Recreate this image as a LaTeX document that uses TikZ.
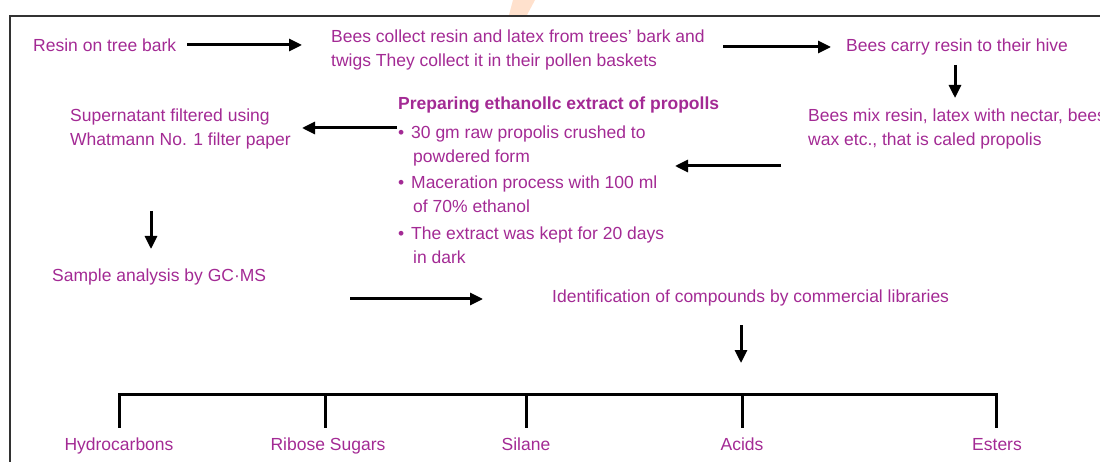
\documentclass[tikz,border=0pt]{standalone}
\usepackage{fontspec}
\setmainfont{Liberation Sans}
\usetikzlibrary{arrows.meta}
\definecolor{txtc}{RGB}{163,42,148}
\definecolor{framec}{RGB}{50,50,50}
\definecolor{wmark}{RGB}{255,225,205}
\tikzset{
  lbl/.style={text=txtc, inner sep=0pt, font=\fontsize{17.5}{24}\selectfont, align=left},
  arr/.style={line width=3pt, -{Triangle[length=13pt,width=12pt]}, black},
  bus/.style={line width=3pt, black, line cap=rect},
}
\begin{document}
\begin{tikzpicture}[x=1pt,y=-1pt]
\useasboundingbox (0,0) rectangle (1100,462);
% faint watermark fragment
\fill[wmark] (513,0) -- (535,0) -- (527,15) -- (509,15) -- cycle;
% frame
\draw[framec, line width=2.2pt] (10,470) -- (10,16) -- (1115,16);

% texts
\node[lbl, anchor=west] (resin) at (33,45) {Resin on tree bark};
\node[lbl, anchor=west] (collect) at (331,50) {Bees collect resin and latex from trees' bark and\\twigs They collect it in their pollen baskets};
\node[lbl, anchor=west] (carry) at (846,47) {Bees carry resin to their hive};
\node[lbl, anchor=west] (mix) at (808,129) {Bees mix resin, latex with nectar, bees\\wax etc., that is caled propolis};
\node[lbl, anchor=north west] (prep) at (398,97) {\textbf{Preparing ethanollc extract of propolls}\\[5pt]
\makebox[13pt][l]{•}30 gm raw propolis crushed to\\
\hspace*{15pt}powdered form\\[2pt]
\makebox[13pt][l]{•}Maceration process with 100 ml\\
\hspace*{15pt}of 70\% ethanol\\[3pt]
\makebox[13pt][l]{•}The extract was kept for 20 days\\
\hspace*{15pt}in dark};
\node[lbl, anchor=west] (super) at (70,129) {Supernatant filtered using\\Whatmann No. 1 filter paper};
\node[lbl, anchor=west] (gcms) at (52,277) {Sample analysis by GC·MS};
\node[lbl, anchor=west] (ident) at (552,298) {Identification of compounds by commercial libraries};

\node[lbl, anchor=base] (hyd) at (119,450) {Hydrocarbons};
\node[lbl, anchor=base] (rib) at (328,450) {Ribose Sugars};
\node[lbl, anchor=base] (sil) at (526,450) {Silane};
\node[lbl, anchor=base] (aci) at (742,450) {Acids};
\node[lbl, anchor=base] (est) at (997,450) {Esters};

% arrow end points
\coordinate (a1s) at (187,45);  \coordinate (a1e) at (302,45);
\coordinate (a2s) at (723,47);  \coordinate (a2e) at (831,47);
\coordinate (a3s) at (955,65);  \coordinate (a3e) at (955,98);
\coordinate (a4s) at (781,166); \coordinate (a4e) at (675,166);
\coordinate (a5s) at (397,128); \coordinate (a5e) at (302,128);
\coordinate (a6s) at (151,211); \coordinate (a6e) at (151,249);
\coordinate (a7s) at (350,299); \coordinate (a7e) at (483,299);
\coordinate (a8s) at (741,325); \coordinate (a8e) at (741,363);

\draw[arr] (a1s) -- (a1e);
\draw[arr] (a2s) -- (a2e);
\draw[arr] (a3s) -- (a3e);
\draw[arr] (a4s) -- (a4e);
\draw[arr] (a5s) -- (a5e);
\draw[arr] (a6s) -- (a6e);
\draw[arr] (a7s) -- (a7e);
\draw[arr] (a8s) -- (a8e);

% bracket
\coordinate (bL) at (119,394);
\coordinate (bR) at (996,394);
\draw[bus] (bL) -- (bR);
\draw[bus] (bL) -- (bL |- 0,426);
\draw[bus] (325,394) -- (325,426);
\draw[bus] (526,394) -- (526,426);
\draw[bus] (742,394) -- (742,426);
\draw[bus] (bR) -- (bR |- 0,426);
\end{tikzpicture}
\end{document}
